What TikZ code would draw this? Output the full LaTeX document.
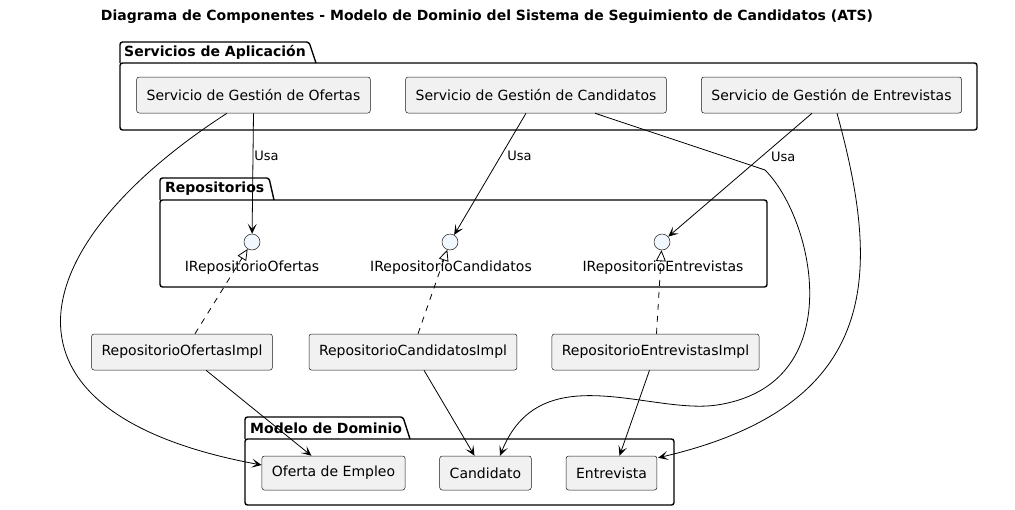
\documentclass[tikz,border=0pt]{standalone}
\usepackage{fontspec}
\setmainfont{DejaVu Sans}
\usetikzlibrary{arrows.meta,calc}
\definecolor{boxfill}{HTML}{F1F1F1}
\definecolor{boxline}{HTML}{181818}
\definecolor{ifill}{HTML}{F1F8FF}
\begin{document}
\begin{tikzpicture}[x=1pt,y=-1pt,
  comp/.style={draw=boxline, line width=0.5pt, fill=boxfill, rounded corners=2.5pt,
    minimum height=36pt, inner xsep=10pt, inner ysep=0pt, font=\fontsize{14}{17}\selectfont},
  dcomp/.style={comp, minimum height=34pt},
  iface/.style={circle, draw=boxline, line width=0.5pt, fill=ifill, minimum size=16pt, inner sep=0pt},
  ilabel/.style={inner sep=0pt, font=\fontsize{14}{17}\selectfont},
  pkg/.style={draw=black, line width=1.4pt, rounded corners=2.5pt},
  pkglabel/.style={anchor=west, inner sep=0pt, font=\fontsize{14}{17}\selectfont\bfseries},
  arr/.style={draw=black, line width=0.8pt, -{Stealth[length=10pt,width=9pt,inset=5pt]}},
  real/.style={draw=black, line width=0.8pt, dash pattern=on 6pt off 6pt, -{Triangle[open, length=11pt, width=10pt]}},
  usalabel/.style={inner sep=0pt, font=\fontsize{13}{15}\selectfont},
  ttl/.style={inner sep=0pt, font=\fontsize{14}{17}\selectfont\bfseries}]
\useasboundingbox (0,0) rectangle (1015,509);
\fill[white] (0,0) rectangle (1015,509);

% title
\node[ttl] (title) at (487,17) {Diagrama de Componentes - Modelo de Dominio del Sistema de Seguimiento de Candidatos (ATS)};

% packages
\draw[pkg] (120,63) -- (120,42) -- (309,42) -- (316,63);
\draw[pkg] (120,63) rectangle (977,130);
\node[pkglabel] (pk1) at (124,52.5) {Servicios de Aplicación};

\draw[pkg] (160,200) -- (160,178) -- (269,178) -- (274,200);
\draw[pkg] (160,200) rectangle (767,287);
\node[pkglabel] (pk2) at (165,188.5) {Repositorios};

\draw[pkg] (245,439) -- (245,417) -- (403,417) -- (410,439);
\draw[pkg] (245,439) rectangle (674,505);
\node[pkglabel] (pk3) at (250,428) {Modelo de Dominio};

% services
\node[comp] (so) at (253.5,95) {Servicio de Gestión de Ofertas};
\node[comp] (sc) at (536,95) {Servicio de Gestión de Candidatos};
\node[comp] (se) at (831.5,95) {Servicio de Gestión de Entrevistas};

% interfaces
\node[iface] (i1) at (252,242) {};
\node[iface] (i2) at (450,242) {};
\node[iface] (i3) at (662,242) {};
\node[ilabel] (l1) at (252,268) {IRepositorioOfertas};
\node[ilabel] (l2) at (451,268) {IRepositorioCandidatos};
\node[ilabel] (l3) at (663,268) {IRepositorioEntrevistas};

% implementations
\node[comp] (oi) at (182,352) {RepositorioOfertasImpl};
\node[comp] (ci) at (413,352) {RepositorioCandidatosImpl};
\node[comp] (ei) at (655.5,352) {RepositorioEntrevistasImpl};

% domain
\node[dcomp] (oe) at (333.5,473) {Oferta de Empleo};
\node[dcomp] (ca) at (485.5,473) {Candidato};
\node[dcomp] (en) at (611.5,473) {Entrevista};

% Usa arrows
\draw[arr] (so.south) -- (i1) node[usalabel, pos=0.35, anchor=west, xshift=1pt] (u1) {Usa};
\draw[arr] ($(sc.south)+(-10,0)$) -- (i2) node[usalabel, pos=0.35, anchor=west, xshift=6pt] (u2) {Usa};
\draw[arr] ($(se.south)+(-19.5,0)$) -- (i3) node[usalabel, pos=0.35, anchor=west, xshift=9pt] (u3) {Usa};

% realizations
\draw[real] ($(oi.north)+(13,0)$) -- (i1);
\draw[real] ($(ci.north)+(5,0)$) -- (i2);
\draw[real] ($(ei.north)+(1,0)$) -- (i3);

% impl -> domain
\draw[arr] ($(oi.south)+(24,0)$) -- ($(oe.north)+(-22,0)$);
\draw[arr] ($(ci.south)+(11,0)$) -- ($(ca.north)+(-11,0)$);
\draw[arr] ($(ei.south)+(-6,0)$) -- ($(en.north)+(8,0)$);

% services -> domain (curves)
\draw[arr] ($(so.south)+(-26.5,0)$) .. controls (20,247) and (-20,413) .. ($(oe.west)+(0,-8)$);
\draw[arr] ($(sc.south)+(59,0)$) -- (765,170) .. controls (815,220) and (850,385) .. (717,405)
   .. controls (650,415) and (540,355) .. ($(ca.north)+(14.5,0)$);
\draw[arr] ($(se.south)+(5.5,0)$) .. controls (880,270) and (885,405) .. ($(en.north east)+(1,2)$);
\end{tikzpicture}
\end{document}
